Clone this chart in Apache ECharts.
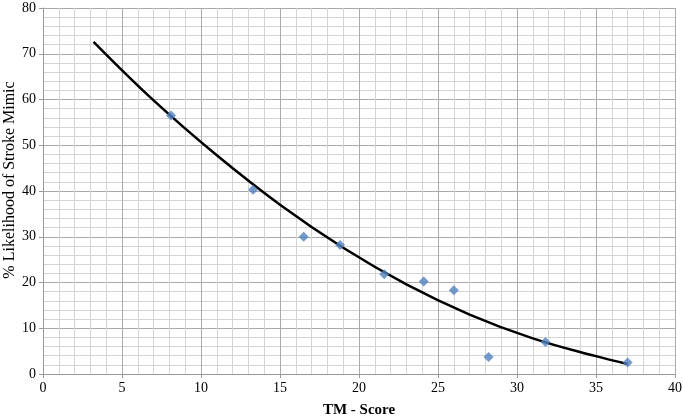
<!DOCTYPE html>
<html lang="en">
<head>
    <meta charset="UTF-8">
    <title>TM - Score</title>
    <script type="text/javascript" src="https://cdn.jsdelivr.net/npm/echarts@6/dist/echarts.min.js"></script>
</head>
<body style="margin:0">
<div id="main" style="width: 683px;height:420px"></div>
<script type="text/javascript">
    // observed points (TM score, % likelihood)
    var tmScore = [8.1, 13.3, 16.5, 18.8, 21.6, 24.1, 26.0, 28.2, 31.8, 37.0];
    var likelihood = [56.5, 40.3, 30.0, 28.2, 21.8, 20.2, 18.3, 3.7, 7.0, 2.5];
    // trend line
    var trendX = [3.2, 7, 11, 15, 19, 23, 27, 31, 35, 37];
    var trendY = [72.6, 59.8, 47.8, 37.0, 27.6, 19.6, 13.0, 7.8, 3.9, 2.2];

    var pts = [];
    for (var i = 0; i < tmScore.length; i++) {
        pts.push([tmScore[i], likelihood[i]]);
    }
    var trend = [];
    for (var j = 0; j < trendX.length; j++) {
        trend.push([trendX[j], trendY[j]]);
    }

    var font = 'Liberation Serif';
    var myChart = echarts.init(document.getElementById('main'));
    var option = {
        animation: false,
        grid: {left: 43, right: 8, top: 8, bottom: 46, outerBoundsMode: 'none', containLabel: false},
        xAxis: {
            type: 'value', min: 0, max: 40, interval: 5,
            name: 'TM - Score', nameLocation: 'middle', nameGap: 29, nameMoveOverlap: false,
            nameTextStyle: {fontFamily: font, fontSize: 15, fontWeight: 'bold', color: '#000'},
            axisLine: {show: true, lineStyle: {color: '#999'}},
            axisTick: {show: true, length: 4, lineStyle: {color: '#999'}},
            axisLabel: {fontFamily: font, fontSize: 14, color: '#000', margin: 7},
            splitLine: {show: true, lineStyle: {color: '#aaa', width: 1}},
            minorTick: {show: false, splitNumber: 5},
            minorSplitLine: {show: true, lineStyle: {color: '#d4d4d4', width: 1}}
        },
        yAxis: {
            type: 'value', min: 0, max: 80, interval: 10,
            name: '% Likelihood of Stroke Mimic', nameLocation: 'middle', nameGap: 25, nameMoveOverlap: false,
            nameTextStyle: {fontFamily: font, fontSize: 16, color: '#000', padding: [0, 0, 0, 22]},
            axisLine: {show: true, lineStyle: {color: '#999'}},
            axisTick: {show: true, length: 4, lineStyle: {color: '#999'}},
            axisLabel: {fontFamily: font, fontSize: 14, color: '#000', margin: 7},
            splitLine: {show: true, lineStyle: {color: '#aaa', width: 1}},
            minorTick: {show: false, splitNumber: 5},
            minorSplitLine: {show: true, lineStyle: {color: '#d4d4d4', width: 1}}
        },
        series: [
            {
                type: 'line', data: trend, smooth: 0.4, showSymbol: false,
                lineStyle: {color: '#000', width: 2.5}, z: 2
            },
            {
                type: 'scatter', data: pts, symbol: 'diamond', symbolSize: 10,
                itemStyle: {color: '#4f81bd'}, z: 3
            }
        ]
    };
    myChart.setOption(option);
</script>
</body>
</html>
